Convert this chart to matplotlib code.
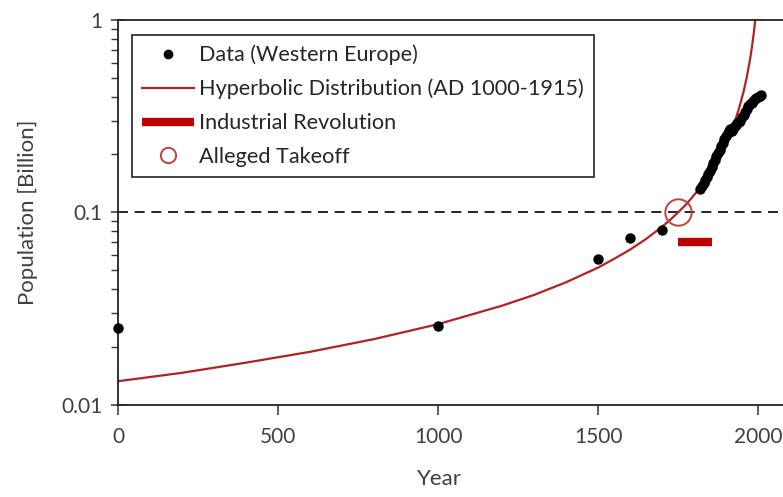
import matplotlib
matplotlib.use("Agg")
import matplotlib.pyplot as plt
from matplotlib.lines import Line2D
from matplotlib.ticker import FixedLocator, FixedFormatter, LogLocator, NullFormatter

plt.rcParams['font.family'] = ['Lato', 'DejaVu Sans']

# --- data ---
# sparse early estimates (Western Europe, billions)
early_years = [0, 1000, 1500, 1600, 1700]
early_pop = [0.025, 0.0256, 0.0573, 0.0737, 0.081]

# dense record 1820-2008
recent_years = [1820, 1825, 1830, 1835, 1840, 1845, 1850, 1855, 1860, 1865,
                1870, 1875, 1880, 1885, 1890, 1895, 1900, 1905, 1910, 1913,
                1916, 1919, 1922, 1925, 1930, 1935, 1940, 1945, 1950, 1955,
                1960, 1965, 1970, 1975, 1980, 1985, 1990, 1995, 2000, 2005, 2008]
recent_pop = [0.132, 0.137, 0.142, 0.147, 0.153, 0.158, 0.165, 0.172, 0.180, 0.188,
              0.196, 0.204, 0.212, 0.221, 0.230, 0.240, 0.250, 0.259, 0.266, 0.270,
              0.268, 0.266, 0.272, 0.279, 0.286, 0.291, 0.296, 0.300, 0.312, 0.322,
              0.334, 0.345, 0.356, 0.364, 0.372, 0.380, 0.388, 0.393, 0.398, 0.403, 0.406]

# hyperbolic fit (AD 1000-1915)
hyp_years = [0, 200, 400, 600, 800, 1000, 1200, 1300, 1400, 1500, 1550, 1600, 1650,
             1700, 1725, 1750, 1775, 1800, 1825, 1850, 1880, 1900, 1920, 1940, 1955,
             1965, 1975, 1982, 1987, 1991, 1993]
hyp_pop = [0.0133, 0.0147, 0.0166, 0.0189, 0.0220, 0.0263, 0.0328, 0.0373,
           0.0434, 0.0517, 0.0574, 0.0641, 0.0728, 0.0843, 0.0914, 0.100, 0.110,
           0.123, 0.139, 0.160, 0.194, 0.227, 0.273, 0.344, 0.425, 0.506, 0.623,
           0.744, 0.865, 0.993, 1.07]

industrial_years = [1750, 1855]
industrial_level = [0.0703, 0.0703]

takeoff_year = [1750]
takeoff_pop = [0.1]

reference_level = 0.1

red_line = '#b22222'
red_bar = '#c00000'
red_circle = '#c0413b'

fig = plt.figure(figsize=(7.83, 4.97), dpi=100)
ax = fig.add_axes([0.1507, 0.185, 0.8493, 0.775])

ax.axhline(reference_level, color='black', linestyle=(0, (6, 4)), linewidth=1.2, zorder=1)
ax.plot(hyp_years, hyp_pop, color=red_line, linewidth=1.6, zorder=2)
ax.plot(industrial_years, industrial_level, color=red_bar, linewidth=6,
        solid_capstyle='butt', zorder=3)
ax.plot(early_years + recent_years, early_pop + recent_pop, 'o', color='black',
        markersize=7.5, markeredgewidth=0, zorder=4, clip_on=False)
ax.plot(takeoff_year, takeoff_pop, 'o', markerfacecolor='none',
        markeredgecolor=red_circle, markersize=19, markeredgewidth=1.4, zorder=5)

ax.set_yscale('log')
ax.set_ylim(0.01, 1)
ax.set_xlim(0, 2078)

ax.yaxis.set_major_locator(FixedLocator([0.01, 0.1, 1]))
ax.yaxis.set_major_formatter(FixedFormatter(['0.01', '0.1', '1']))
ax.yaxis.set_minor_locator(LogLocator(base=10, subs=range(2, 10)))
ax.yaxis.set_minor_formatter(NullFormatter())
ax.set_xticks([0, 500, 1000, 1500, 2000])

ax.tick_params(axis='y', which='major', direction='inout', length=10, width=1.1,
               labelsize=15, pad=6, colors='#333333', labelcolor='#404040')
ax.tick_params(axis='y', which='minor', direction='out', length=5, width=1.0, colors='#333333')
ax.tick_params(axis='x', which='major', direction='out', length=7, width=1.1,
               labelsize=15, pad=9, colors='#333333', labelcolor='#404040')

for side in ['left', 'bottom', 'top']:
    ax.spines[side].set_linewidth(1.3)
    ax.spines[side].set_color('#222222')
ax.spines['right'].set_visible(False)

ax.set_xlabel('Year', fontsize=16, color='#404040')
ax.set_ylabel('Population [Billion]', fontsize=16, color='#404040')
ax.xaxis.set_label_coords(0.484, -0.165)
ax.yaxis.set_label_coords(-0.12, 0.5)

handles = [
    Line2D([], [], linestyle='none', marker='o', color='black', markersize=6),
    Line2D([], [], color=red_line, linewidth=1.6),
    Line2D([], [], color=red_bar, linewidth=6, solid_capstyle='butt'),
    Line2D([], [], linestyle='none', marker='o', markerfacecolor='none',
           markeredgecolor=red_circle, markersize=11, markeredgewidth=1.4),
]
labels = ['Data (Western Europe)', 'Hyperbolic Distribution (AD 1000-1915)',
          'Industrial Revolution', 'Alleged Takeoff']
leg = ax.legend(handles, labels, loc='upper left', bbox_to_anchor=(0.021, 0.961),
                borderaxespad=0, fontsize=15.6, frameon=True, fancybox=False,
                edgecolor='black', handlelength=2.4, handletextpad=0.25,
                labelspacing=0.63, borderpad=0.45, labelcolor='#262626')
leg.get_frame().set_linewidth(1.3)

fig.savefig('out.png', dpi=100)
